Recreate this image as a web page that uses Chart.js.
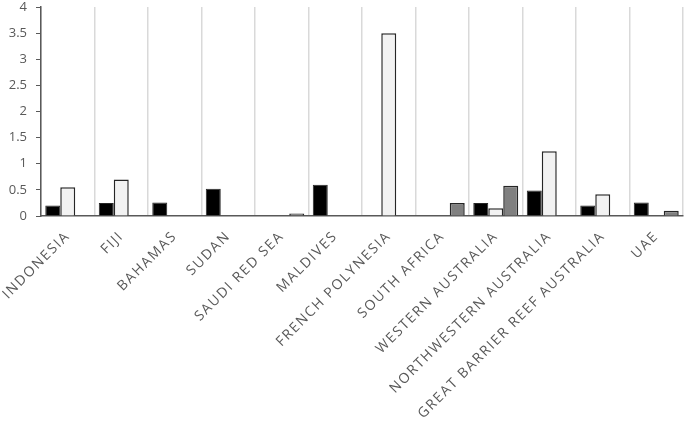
<!DOCTYPE html>
<html>
<head>
<meta charset="utf-8">
<script src="https://cdn.jsdelivr.net/npm/chart.js@4"></script>
<style>
  html, body { margin: 0; padding: 0; background: #fff; }
  #wrap { width: 685px; height: 424px; }
</style>
</head>
<body>
<div id="wrap"><canvas id="barChart"></canvas></div>
<script>
var categories = ['INDONESIA', 'FIJI', 'BAHAMAS', 'SUDAN', 'SAUDI RED SEA', 'MALDIVES',
  'FRENCH POLYNESIA', 'SOUTH AFRICA', 'WESTERN AUSTRALIA', 'NORTHWESTERN AUSTRALIA',
  'GREAT BARRIER REEF AUSTRALIA', 'UAE'];
var seriesBlack = [0.2, 0.25, 0.26, 0.52, null, 0.6, null, null, 0.25, 0.49, 0.2, 0.26];
var seriesLight = [0.55, 0.7, null, null, null, null, 3.5, null, 0.15, 1.24, 0.415, null];
var seriesGray = [null, null, null, null, 0.05, null, null, 0.25, 0.58, null, null, 0.1];
var yTicks = [0, 0.5, 1, 1.5, 2, 2.5, 3, 3.5, 4];

var SPACED = '1.6px';

// x labels in the source are spaced out, y labels are not
var spacing = {
  id: 'spacing',
  beforeLayout: function (chart) { chart.ctx.letterSpacing = SPACED; },
  beforeDraw: function (chart) { chart.ctx.letterSpacing = SPACED; },
  afterDatasetsDraw: function (chart) { chart.ctx.letterSpacing = '0px'; }
};

document.addEventListener('DOMContentLoaded', function () {
  var ctx = document.getElementById('barChart').getContext('2d');
  var barChart = new Chart(ctx, {
    type: 'bar',
    data: {
      labels: categories,
      datasets: [{
        label: 'Series 1',
        data: seriesBlack,
        backgroundColor: '#000000',
        borderColor: '#262626',
        borderWidth: 1
      }, {
        label: 'Series 2',
        data: seriesLight,
        backgroundColor: '#f2f2f2',
        borderColor: '#262626',
        borderWidth: 1.5
      }, {
        label: 'Series 3',
        data: seriesGray,
        backgroundColor: '#808080',
        borderColor: '#262626',
        borderWidth: 1.5
      }]
    },
    plugins: [spacing],
    options: {
      responsive: true,
      maintainAspectRatio: false,
      animation: false,
      layout: { padding: { left: 0, right: 2, top: 7, bottom: 0 } },
      plugins: {
        legend: { display: false },
        tooltip: { enabled: false }
      },
      datasets: {
        bar: { categoryPercentage: 0.84, barPercentage: 1.0 }
      },
      scales: {
        x: {
          afterFit: function (axis) {
            // let the first label hang past the left edge like the source
            axis.paddingLeft = 0;
            axis.height = 208;
          },
          grid: { color: '#d9d9d9', lineWidth: 1.5, drawTicks: false, offset: true },
          border: { color: '#595959', width: 1.5 },
          ticks: {
            color: '#595959',
            font: { family: 'Open Sans', size: 14 },
            maxRotation: 45,
            minRotation: 45,
            autoSkip: false,
            padding: 12
          }
        },
        y: {
          min: 0,
          max: 4,
          beforeUpdate: function (axis) { axis.ctx.letterSpacing = '0px'; },
          afterFit: function (axis) {
            axis.paddingTop = 0;
            axis.width = 41;
          },
          afterUpdate: function (axis) { axis.ctx.letterSpacing = SPACED; },
          afterBuildTicks: function (axis) {
            axis.ticks = yTicks.map(function (v) { return { value: v }; });
          },
          grid: { display: true, drawOnChartArea: false, drawTicks: true, tickLength: 5, color: '#595959', z: 0 },
          border: { color: '#595959', width: 1.5 },
          ticks: {
            color: '#595959',
            font: { family: 'Open Sans', size: 13 },
            padding: 9,
            z: 1,
            callback: function (v) { return String(v); }
          }
        }
      }
    }
  });
});
</script>
</body>
</html>
